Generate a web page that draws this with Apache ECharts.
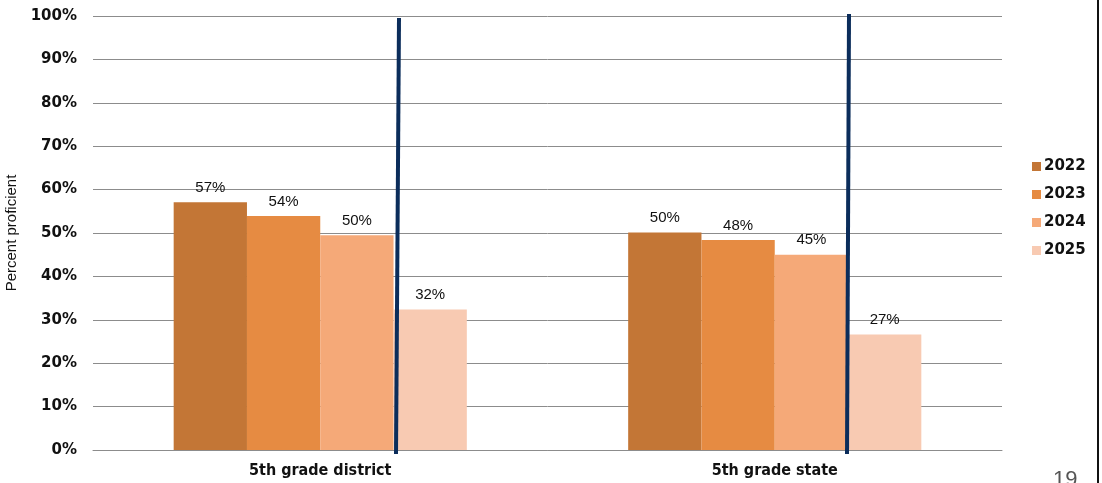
<!DOCTYPE html>
<html><head><meta charset="utf-8">
<script src="https://cdn.jsdelivr.net/npm/echarts@6/dist/echarts.min.js"></script>
<style>html,body{margin:0;padding:0;background:#fff}#c{width:1102px;height:483px}</style>
</head><body><div id="c"></div>
<script>
const categories = ['5th grade district', '5th grade state'];
const seriesNames = ['2022', '2023', '2024', '2025'];
const values2022 = [57.1, 50.1];
const values2023 = [53.9, 48.4];
const values2024 = [49.5, 45.0];
const values2025 = [32.4, 26.6];
const yTicks = [0, 10, 20, 30, 40, 50, 60, 70, 80, 90, 100];
const colors = ['#C37636', '#E68B42', '#F5A978', '#F8CAB2'];
const allValues = [values2022, values2023, values2024, values2025];

const chart = echarts.init(document.getElementById('c'), null, {renderer: 'canvas'});
const option = {
  animation: false,
  backgroundColor: '#fff',
  grid: {left: 93, right: 100, top: 16, bottom: 33, containLabel: false, outerBoundsMode: 'none'},
  legend: {
    orient: 'vertical', left: 1027, top: 154,
    itemWidth: 9, itemHeight: 9, itemGap: 13, icon: 'rect',
    data: seriesNames,
    textStyle: {fontFamily: 'DejaVu Sans', fontWeight: 'bold', fontSize: 15, color: '#111', padding: [0, 0, 0, -2]}
  },
  xAxis: {
    type: 'category', data: categories,
    axisLine: {lineStyle: {color: '#8c8c8c', width: 1}},
    axisTick: {show: false},
    axisLabel: {fontFamily: 'Liberation Sans Narrow, DejaVu Sans Condensed, sans-serif', fontWeight: 'bold', fontSize: 16, color: '#111', margin: 13}
  },
  yAxis: {
    type: 'value', min: 0, max: 100, interval: 10,
    name: 'Percent proficient', nameLocation: 'middle', nameGap: 72, nameRotate: 90,
    nameTextStyle: {fontFamily: 'Liberation Sans, sans-serif', fontSize: 15, color: '#111'},
    axisLine: {show: false}, axisTick: {show: false},
    axisLabel: {fontFamily: 'DejaVu Sans', fontWeight: 'bold', fontSize: 15, color: '#111', margin: 16,
      formatter: v => yTicks.includes(v) ? v + '%' : ''},
    splitLine: {lineStyle: {color: '#8c8c8c', width: 1}}
  },
  series: seriesNames.map((n, i) => ({
    name: n, type: 'bar', data: allValues[i],
    itemStyle: {color: colors[i]},
    barGap: '0%', barCategoryGap: '35.5%',
    label: {show: true, position: 'top', distance: 7, fontFamily: 'Liberation Sans, sans-serif', fontSize: 15, color: '#111',
      formatter: p => Math.round(p.value) + '%'}
  })),
  graphic: [
    {type: 'line', shape: {x1: 399, y1: 18, x2: 396, y2: 454}, style: {stroke: '#0B2D5B', lineWidth: 4}, z: 100},
    {type: 'line', shape: {x1: 849, y1: 14, x2: 847, y2: 454}, style: {stroke: '#0B2D5B', lineWidth: 4}, z: 100},
    {type: 'rect', shape: {x: 1097, y: 0, width: 2, height: 483}, style: {fill: '#111'}, z: 100},
    {type: 'text', left: 1053, top: 469, style: {text: '19', fontFamily: 'Liberation Sans, sans-serif', fontSize: 22, fill: '#555'}, z: 100}
  ]
};
chart.setOption(option);
</script></body></html>
